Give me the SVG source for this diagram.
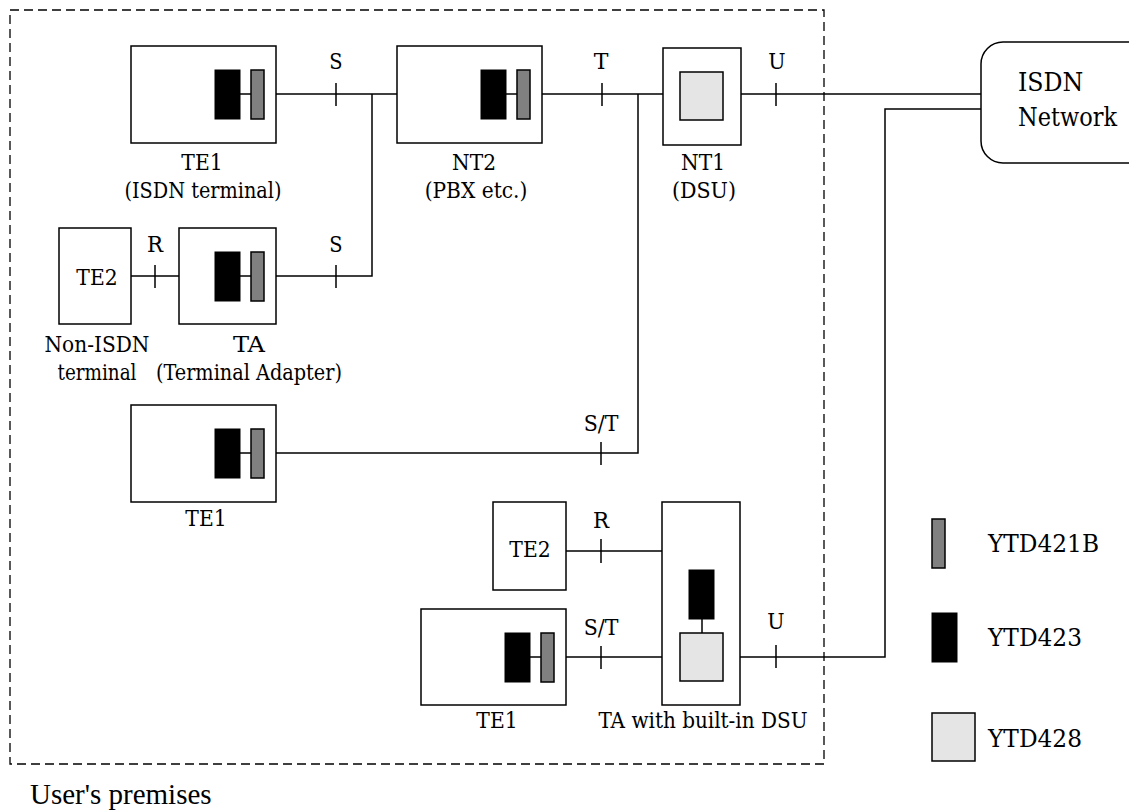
<svg xmlns="http://www.w3.org/2000/svg" width="1129" height="811" viewBox="0 0 1129 811">
<style>
text{font-family:'DejaVu Serif Condensed','DejaVu Serif',serif;font-size:22px;fill:#000}
.m{text-anchor:middle}
.box{fill:#fff;stroke:#000;stroke-width:1.5}
.blk{fill:#000;stroke:#000;stroke-width:1}
.gry{fill:#808080;stroke:#000;stroke-width:1.5}
.lgt{fill:#e5e5e5;stroke:#000;stroke-width:1.5}
.ln{fill:none;stroke:#000;stroke-width:1.5}
.dash{fill:none;stroke:#000;stroke-width:1.3;stroke-dasharray:9 5}
.big{font-size:25.5px}
.leg{font-size:23.6px}
.up{font-family:'Liberation Serif','Times New Roman',serif;font-size:29px}
</style>
<rect class="dash" x="10" y="10" width="814" height="754"/>
<text class="up" x="30" y="804">User's premises</text>

<g id="connectors">
<path class="ln" d="M276 94H397M336 83V106"/>
<path class="ln" d="M372 94V276H276M336 265V288"/>
<path class="ln" d="M131 276H179M155 265V288"/>
<path class="ln" d="M542 94H663M602 83V106"/>
<path class="ln" d="M638 94V453H276M601 442V465"/>
<path class="ln" d="M741 94H981M776 83V106"/>
<path class="ln" d="M566 551H662M601 539V563"/>
<path class="ln" d="M566 657H662M601 646V669"/>
<path class="ln" d="M740 657H885V109H981M776 645V668"/>
<text class="m" x="336" y="69" textLength="13.3" lengthAdjust="spacingAndGlyphs">S</text>
<text class="m" x="336" y="252" textLength="13.3" lengthAdjust="spacingAndGlyphs">S</text>
<text class="m" x="155" y="252" textLength="16" lengthAdjust="spacingAndGlyphs">R</text>
<text class="m" x="601" y="69" textLength="14.7" lengthAdjust="spacingAndGlyphs">T</text>
<text class="m" x="777" y="69" textLength="17.3" lengthAdjust="spacingAndGlyphs">U</text>
<text class="m" x="601" y="431" textLength="34.7" lengthAdjust="spacingAndGlyphs">S/T</text>
<text class="m" x="601" y="528" textLength="16" lengthAdjust="spacingAndGlyphs">R</text>
<text class="m" x="601" y="635" textLength="34.7" lengthAdjust="spacingAndGlyphs">S/T</text>
<text class="m" x="776" y="629" textLength="17.3" lengthAdjust="spacingAndGlyphs">U</text>
</g>

<g id="te1-top">
<rect class="box" x="131" y="46" width="145" height="97"/>
<line class="ln" x1="240" y1="94" x2="251" y2="94"/>
<rect class="blk" x="215" y="70" width="25" height="49"/>
<rect class="gry" x="251" y="70" width="13" height="49"/>
<text class="m" x="202" y="170" textLength="41.3" lengthAdjust="spacingAndGlyphs">TE1</text>
<text class="m" x="203" y="198" textLength="157" lengthAdjust="spacingAndGlyphs">(ISDN terminal)</text>
</g>

<g id="nt2">
<rect class="box" x="397" y="46" width="145" height="97"/>
<line class="ln" x1="506" y1="94" x2="517" y2="94"/>
<rect class="blk" x="481" y="70" width="25" height="49"/>
<rect class="gry" x="517" y="70" width="13" height="49"/>
<text class="m" x="474" y="170" textLength="44" lengthAdjust="spacingAndGlyphs">NT2</text>
<text class="m" x="476" y="198" textLength="102.6" lengthAdjust="spacingAndGlyphs">(PBX etc.)</text>
</g>

<g id="nt1">
<rect class="box" x="663" y="48" width="78" height="97"/>
<rect class="lgt" x="680" y="72" width="43" height="48"/>
<text class="m" x="703" y="170" textLength="44" lengthAdjust="spacingAndGlyphs">NT1</text>
<text class="m" x="704" y="198" textLength="64" lengthAdjust="spacingAndGlyphs">(DSU)</text>
</g>

<g id="isdn-network">
<rect class="box" x="981" y="42" width="200" height="121" rx="22"/>
<text class="big" x="1018" y="91" textLength="65.3" lengthAdjust="spacingAndGlyphs">ISDN</text>
<text class="big" x="1018" y="126" textLength="99" lengthAdjust="spacingAndGlyphs">Network</text>
</g>

<g id="te2-top">
<rect class="box" x="59" y="228" width="72" height="96"/>
<text class="m" x="97" y="285" textLength="41.3" lengthAdjust="spacingAndGlyphs">TE2</text>
<text class="m" x="97" y="352" textLength="105" lengthAdjust="spacingAndGlyphs">Non-ISDN</text>
<text class="m" x="97" y="380" textLength="79" lengthAdjust="spacingAndGlyphs">terminal</text>
</g>

<g id="ta">
<rect class="box" x="179" y="228" width="97" height="96"/>
<line class="ln" x1="240" y1="276" x2="251" y2="276"/>
<rect class="blk" x="215" y="252" width="25" height="49"/>
<rect class="gry" x="251" y="252" width="13" height="49"/>
<text class="m" x="249" y="352" textLength="32" lengthAdjust="spacingAndGlyphs">TA</text>
<text class="m" x="249" y="380" textLength="186" lengthAdjust="spacingAndGlyphs">(Terminal Adapter)</text>
</g>

<g id="te1-middle">
<rect class="box" x="131" y="405" width="145" height="97"/>
<line class="ln" x1="240" y1="453" x2="251" y2="453"/>
<rect class="blk" x="215" y="429" width="25" height="49"/>
<rect class="gry" x="251" y="429" width="13" height="49"/>
<text class="m" x="206" y="526" textLength="41.3" lengthAdjust="spacingAndGlyphs">TE1</text>
</g>

<g id="te2-bottom">
<rect class="box" x="493" y="502" width="73" height="88"/>
<text class="m" x="530" y="557" textLength="41.3" lengthAdjust="spacingAndGlyphs">TE2</text>
</g>

<g id="te1-bottom">
<rect class="box" x="421" y="609" width="145" height="96"/>
<line class="ln" x1="530" y1="657" x2="541" y2="657"/>
<rect class="blk" x="505" y="633" width="25" height="49"/>
<rect class="gry" x="541" y="633" width="13" height="49"/>
<text class="m" x="497" y="728" textLength="41.3" lengthAdjust="spacingAndGlyphs">TE1</text>
</g>

<g id="ta-dsu">
<rect class="box" x="662" y="502" width="78" height="203"/>
<line class="ln" x1="702" y1="619" x2="702" y2="633"/>
<rect class="blk" x="689" y="570" width="25" height="49"/>
<rect class="lgt" x="680" y="633" width="43" height="48"/>
<text class="m" x="703" y="728" textLength="209" lengthAdjust="spacingAndGlyphs">TA with built-in DSU</text>
</g>

<g id="legend">
<rect class="gry" x="932" y="519" width="13" height="49"/>
<text class="leg" x="988" y="552" textLength="111" lengthAdjust="spacingAndGlyphs">YTD421B</text>
<rect class="blk" x="932" y="613" width="25" height="49"/>
<text class="leg" x="988" y="646" textLength="94" lengthAdjust="spacingAndGlyphs">YTD423</text>
<rect class="lgt" x="932" y="713" width="43" height="48"/>
<text class="leg" x="988" y="747" textLength="94" lengthAdjust="spacingAndGlyphs">YTD428</text>
</g>
</svg>
